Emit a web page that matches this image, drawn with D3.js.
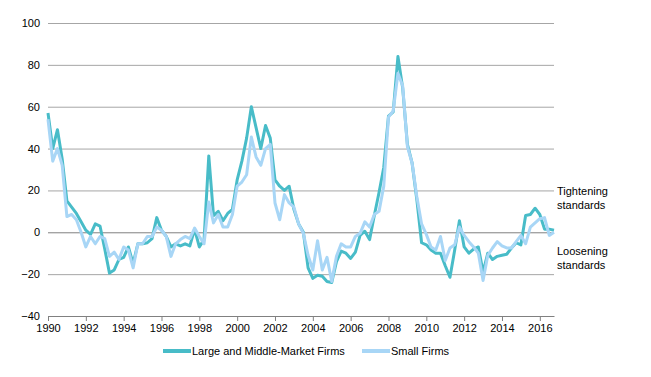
<!DOCTYPE html>
<html>
<head>
<meta charset="utf-8">
<script src="https://cdn.jsdelivr.net/npm/d3@7"></script>
<style>
  body { margin: 0; background: #fff; }
  svg { display: block; font-family: "Liberation Sans", Arial, sans-serif; }
</style>
</head>
<body>
<svg id="chart" width="651" height="377"></svg>
<script>
// quarterly net % of banks tightening standards, starting 1990 Q1
const startYear = 1990;
const largeFirms = [
  57, 40, 49, 35, 15, 12, 9, 5, 1, -1, 4, 3, -8, -19.5, -18, -13,
  -12, -7, -15, -5.5, -5.5, -5, -3, 7, 1, -2, -7, -5.5, -6.5, -5.5, -6.5, 1.5,
  -7, -3.5, 36.5, 8, 10, 5.5, 9, 11, 25, 34, 45, 60, 50, 40, 51, 45,
  25, 22, 20, 22, 11, 4, 0, -17, -22, -20.5, -21, -23.5, -24, -14, -9, -10,
  -12.5, -9.5, -1.5, 0.5, -3.5, 8, 19, 31, 55.5, 57.5, 84, 69, 42, 33, 15.5, -5,
  -6, -8.5, -10, -10, -16, -21.5, -8.5, 5.5, -7, -10, -8, -7, -19, -10, -13, -11.5,
  -11, -10.5, -7.5, -5, -6, 8, 8.5, 11.5, 8.5, 1.5, 1.5, 1
];
const smallFirms = [
  54, 34, 40, 32, 7.5, 8.5, 6, 0, -7, -2, -5.5, -2, -3, -11.5, -9.5, -13,
  -7, -8.5, -17, -5.5, -5.5, -2, -2, 2.5, 1, -2, -11.5, -5.5, -3.5, -2, -3, 2,
  -2, -5.5, 14.5, 4.5, 8.5, 2.5, 2.5, 8.5, 22, 24, 27.5, 45.5, 36, 32, 40, 42,
  14, 6, 18, 14, 12, 4, -0.5, -11, -18, -4, -18, -12, -23.5, -11.5, -5.5, -7,
  -7, -2, -0.5, 5, 2.5, 8.5, 10, 22, 55, 58, 76, 70, 41, 33, 17, 4,
  -1, -7, -8.5, -2, -13.5, -7.5, -6, 2.5, -1.5, -4.5, -7, -10, -23, -11, -7.5, -4.5,
  -6.5, -7.5, -7.5, -4.5, -1.5, -5.5, 2.5, 4.5, 6.5, 7, -1.5, 0
];
const xTicks = [1990, 1992, 1994, 1996, 1998, 2000, 2002, 2004, 2006, 2008, 2010, 2012, 2014, 2016];
const yTicks = [-40, -20, 0, 20, 40, 60, 80, 100];

const series = [
  { name: "Large and Middle-Market Firms", values: largeFirms, color: "#48bcc8" },
  { name: "Small Firms", values: smallFirms, color: "#a8d6f6" }
];

const svg = d3.select("#chart");
const plot = { left: 48, right: 554, top: 23, bottom: 316 };

const x = d3.scaleLinear()
  .domain([startYear, startYear + (largeFirms.length - 1) / 4])
  .range([plot.left, plot.right]);
const y = d3.scaleLinear().domain([-40, 100]).range([plot.bottom, plot.top]);

// horizontal gridlines + y labels
const yAxis = svg.append("g")
  .attr("transform", `translate(${plot.left},0)`)
  .call(d3.axisLeft(y).tickValues(yTicks).tickSize(-(plot.right - plot.left)).tickPadding(8));
yAxis.select(".domain").remove();
yAxis.selectAll(".tick line")
  .attr("stroke", (d) => (d === 0 ? "#808080" : "#a6a6a6"))
  .attr("stroke-width", 1)
  .style("display", (d) => (d === -40 ? "none" : null));
yAxis.selectAll(".tick text")
  .attr("fill", "#000")
  .style("font-size", "11px");

// x axis
const xAxis = svg.append("g")
  .attr("transform", `translate(0,${plot.bottom})`)
  .call(d3.axisBottom(x).tickValues(xTicks).tickFormat(d3.format("d"))
    .tickSize(5).tickSizeOuter(0).tickPadding(3));
xAxis.select(".domain").attr("stroke", "#808080");
xAxis.selectAll(".tick line").attr("stroke", "#808080");
xAxis.selectAll(".tick text")
  .attr("fill", "#000")
  .style("font-size", "11px");

const line = d3.line()
  .x((d, i) => x(startYear + i / 4))
  .y((d) => y(d));

svg.append("g")
  .selectAll("path")
  .data(series)
  .join("path")
  .attr("d", (s) => line(s.values))
  .attr("fill", "none")
  .attr("stroke", (s) => s.color)
  .attr("stroke-width", 3)
  .attr("stroke-linejoin", "round");

// right side notes
const notes = [
  { lines: ["Tightening", "standards"], y: 195 },
  { lines: ["Loosening", "standards"], y: 255 }
];
notes.forEach((n) => {
  const t = svg.append("text")
    .attr("x", 557)
    .attr("y", n.y)
    .style("font-size", "11px")
    .attr("fill", "#000");
  n.lines.forEach((l, i) => {
    t.append("tspan").attr("x", 557).attr("dy", i === 0 ? 0 : 14).text(l);
  });
});

// legend
const legendItems = [
  { s: series[0], x: 163 },
  { s: series[1], x: 362 }
];
const legend = svg.append("g");
legendItems.forEach((it) => {
  legend.append("line")
    .attr("x1", it.x).attr("x2", it.x + 28)
    .attr("y1", 351).attr("y2", 351)
    .attr("stroke", it.s.color)
    .attr("stroke-width", 4);
  legend.append("text")
    .attr("x", it.x + 29)
    .attr("y", 355)
    .style("font-size", "11px")
    .attr("fill", "#000")
    .text(it.s.name);
});
</script>
</body>
</html>
